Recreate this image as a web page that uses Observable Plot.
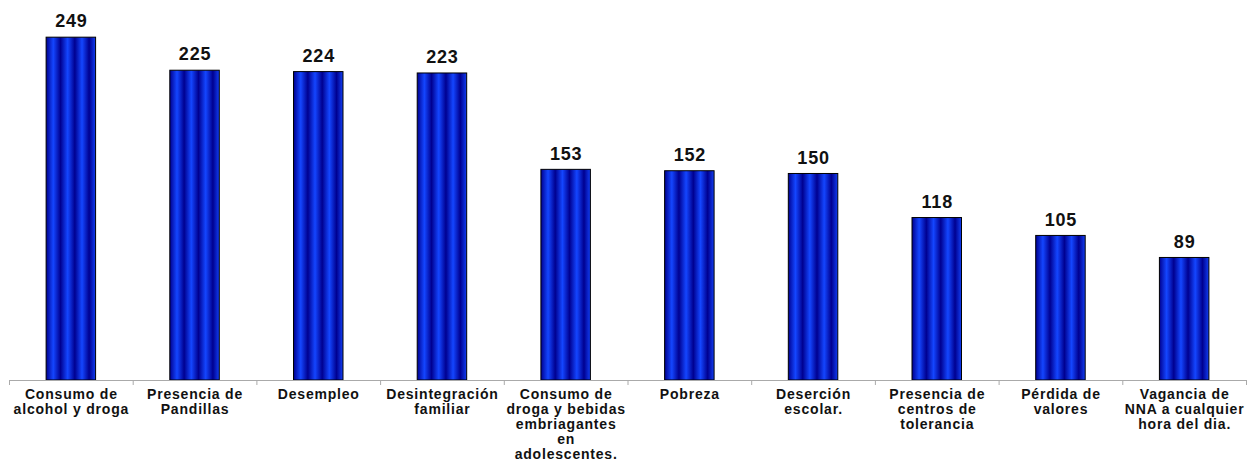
<!DOCTYPE html>
<html>
<head>
<meta charset="utf-8">
<script src="https://cdn.jsdelivr.net/npm/d3@7"></script>
<script src="https://cdn.jsdelivr.net/npm/@observablehq/plot@0.6"></script>
<style>
  html, body { margin: 0; padding: 0; background: #fff; }
  #chart svg text { letter-spacing: 0.8px; }
</style>
</head>
<body>
<div id="chart"></div>
<script>
const categories = [
  "Consumo de alcohol y droga",
  "Presencia de Pandillas",
  "Desempleo",
  "Desintegración familiar",
  "Consumo de droga y bebidas embriagantes en adolescentes.",
  "Pobreza",
  "Deserción escolar.",
  "Presencia de centros de tolerancia",
  "Pérdida de valores",
  "Vagancia de NNA a cualquier hora del dia."
];
const values = [249, 225, 224, 223, 153, 152, 150, 118, 105, 89];
const tickLabels = [
  "Consumo de\nalcohol y droga",
  "Presencia de\nPandillas",
  "Desempleo",
  "Desintegración\nfamiliar",
  "Consumo de\ndroga y bebidas\nembriagantes\nen\nadolescentes.",
  "Pobreza",
  "Deserción\nescolar.",
  "Presencia de\ncentros de\ntolerancia",
  "Pérdida de\nvalores",
  "Vagancia de\nNNA a cualquier\nhora del dia."
];

const data = categories.map((c, i) => ({category: c, value: values[i]}));
const labelOf = new Map(categories.map((c, i) => [c, tickLabels[i]]));

const W = 1252, H = 461;
const marginLeft = 9, marginRight = 6, marginTop = 0, marginBottom = 81;
const xOpts = {type: "band", domain: categories, paddingInner: 0.6, paddingOuter: 0.3, align: 0.5, round: false};
const step = Plot.scale({x: {...xOpts, range: [marginLeft, W - marginRight]}}).step;

const font = "Liberation Sans, Arial, Helvetica, sans-serif";

const chart = Plot.plot({
  width: W,
  height: H,
  marginLeft, marginRight, marginTop, marginBottom,
  style: {fontFamily: font, background: "#fff", overflow: "visible"},
  x: {...xOpts, axis: null, label: null},
  y: {domain: [0, 276], axis: null},
  marks: [
    () => {
      const svg = d3.create("svg:defs");
      const g = svg.append("linearGradient")
        .attr("id", "stripe")
        .attr("x1", 0).attr("x2", 0.29).attr("y1", 0).attr("y2", 0)
        .attr("spreadMethod", "repeat");
      g.append("stop").attr("offset", "0").attr("stop-color", "#000090");
      g.append("stop").attr("offset", "0.5").attr("stop-color", "#1446ff");
      g.append("stop").attr("offset", "1").attr("stop-color", "#000090");
      return svg.node();
    },
    Plot.barY(data, {x: "category", y: "value", fill: "url(#stripe)", stroke: "#000", strokeWidth: 1}),
    Plot.text(data, {x: "category", y: "value", text: d => String(d.value), dy: -16,
      fontSize: 18, fontWeight: "bold", fill: "#111"}),
    Plot.ruleY([0], {stroke: "#aaa", strokeWidth: 1}),
    Plot.axisX({tickSize: 5, text: null, label: null, dx: -step / 2, stroke: "#aaa"}),
    Plot.axisX({ticks: [categories[categories.length - 1]], tickSize: 5, text: null, label: null, dx: step / 2, stroke: "#aaa"}),
    Plot.axisX({tickSize: 0, tickPadding: 8, label: null, tickFormat: d => labelOf.get(d),
      fontSize: 14, fontWeight: "bold", fill: "#111", lineHeight: 1.07, lineAnchor: "top"})
  ]
});
document.getElementById("chart").appendChild(chart);
</script>
</body>
</html>
